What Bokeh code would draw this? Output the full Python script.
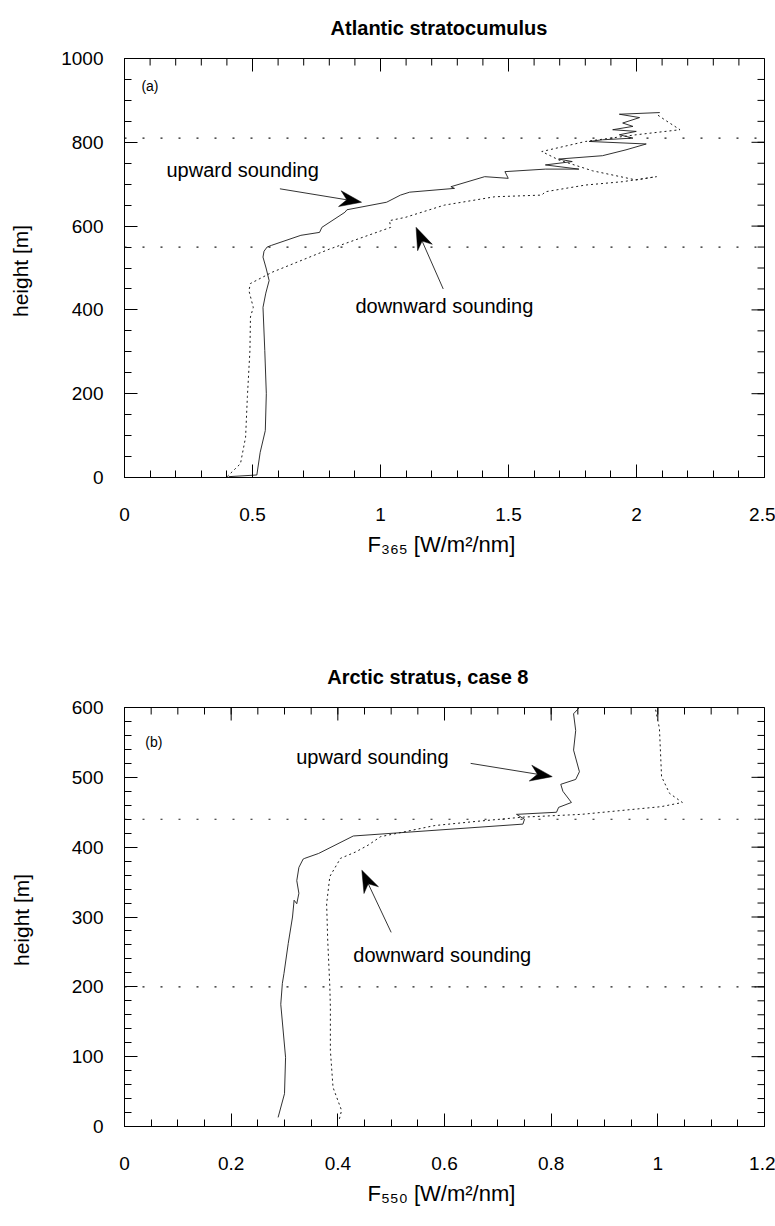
import math
from bokeh.plotting import figure
from bokeh.layouts import column
from bokeh.models import FixedTicker, Label, Span, Range1d, LinearAxis
from bokeh.embed import file_html
from bokeh.resources import INLINE

# ---------------- Panel (a): Atlantic stratocumulus ----------------
a_title = "Atlantic   stratocumulus"
a_xlabel = "F₃₆₅  [W/m²/nm]"
a_up_x = [0.407, 0.517, 0.53, 0.55, 0.554, 0.548, 0.541, 0.552, 0.565, 0.553, 0.541, 0.545,
          0.557, 0.574, 0.689, 0.762, 0.771, 0.861, 0.869, 1.024, 1.078, 1.114, 1.289, 1.275,
          1.407, 1.499, 1.486, 1.644, 1.775, 1.644, 1.749, 1.696, 1.867, 1.959, 2.038, 1.815,
          1.867, 1.986, 1.933, 1.999, 1.907, 1.986, 1.946, 2.012, 1.933, 2.091]
a_up_h = [2, 6, 60, 112, 200, 303, 406, 440, 470, 500, 526, 540,
          550, 554, 578, 585, 597, 633, 639, 657, 674, 681, 690, 694,
          718, 714, 730, 736, 736, 746, 754, 760, 768, 782, 796, 802,
          806, 810, 818, 826, 830, 838, 846, 859, 867, 871]
a_down_x = [0.401, 0.453, 0.473, 0.48, 0.49, 0.492, 0.503, 0.486, 0.492, 0.577, 0.80, 1.04,
            1.035, 1.098, 1.249, 1.446, 1.63, 1.644, 1.801, 1.946, 2.078, 1.999, 1.828, 1.696,
            1.63, 1.801, 1.999, 2.17, 2.117, 2.078]
a_down_h = [2, 33, 96, 193, 303, 383, 406, 446, 463, 490, 545, 597,
            613, 621, 650, 670, 674, 682, 698, 706, 718, 710, 732, 758,
            778, 802, 818, 830, 851, 867]
a_levels = [550, 810]
a_xticks = [0, 0.5, 1, 1.5, 2, 2.5]
a_xtick_labels = ["0", "0.5", "1", "1.5", "2", "2.5"]
a_yticks = [0, 200, 400, 600, 800, 1000]
a_ytick_labels = ["0", "200", "400", "600", "800", "1000"]

# ---------------- Panel (b): Arctic stratus, case 8 ----------------
b_title = "Arctic   stratus,   case   8"
b_xlabel = "F₅₅₀  [W/m²/nm]"
b_up_x = [0.288, 0.300, 0.302, 0.293, 0.296, 0.299, 0.307, 0.315, 0.318, 0.323, 0.327, 0.323,
          0.327, 0.335, 0.338, 0.364, 0.429, 0.747, 0.75, 0.735, 0.81, 0.814, 0.838, 0.822,
          0.818, 0.846, 0.853, 0.842, 0.846, 0.842, 0.853]
b_up_h = [13, 47, 99, 175, 205, 219, 262, 300, 324, 319, 334, 352,
          371, 383, 384, 391, 416, 433, 440, 447, 450, 457, 464, 480,
          490, 497, 508, 539, 567, 591, 600]
b_down_x = [0.403, 0.407, 0.391, 0.386, 0.386, 0.385, 0.381, 0.379, 0.385, 0.405, 0.433, 0.457,
            0.48, 0.582, 0.661, 0.747, 0.857, 1.006, 1.046, 1.022, 1.007, 1.003, 0.995]
b_down_h = [11, 23, 56, 109, 171, 200, 267, 319, 358, 384, 393, 403,
            415, 431, 437, 443, 447, 458, 464, 477, 501, 570, 600]
b_levels = [200, 440]
b_xticks = [0, 0.2, 0.4, 0.6, 0.8, 1.0, 1.2]
b_xtick_labels = ["0", "0.2", "0.4", "0.6", "0.8", "1", "1.2"]
b_yticks = [0, 100, 200, 300, 400, 500, 600]
b_ytick_labels = ["0", "100", "200", "300", "400", "500", "600"]

FONT = "Liberation Sans"
INK = "#1a1a1a"
FRAME_W, FRAME_H = 640, 419
MAJ, MIN = 13, 7


def make_panel(height, top, bottom, xmax, ymax, xticks, xlabels, xminor_step,
               yticks, ylabels, yminor_step, ylab_standoff, title, xlabel):
    p = figure(width=775, height=height, x_range=Range1d(0, xmax), y_range=Range1d(0, ymax),
               output_backend="svg", toolbar_location=None,
               min_border_left=124, min_border_right=11, min_border_top=top,
               min_border_bottom=bottom)
    p.title.visible = False
    p.grid.visible = False
    p.outline_line_color = "black"
    p.outline_line_width = 1
    nx = int(round(xmax / xminor_step))
    ny = int(round(ymax / yminor_step))
    xminor = [i * xminor_step for i in range(nx + 1)]
    yminor = [i * yminor_step for i in range(ny + 1)]

    def style_axis(ax):
        ax.axis_line_color = "black"
        ax.major_tick_line_color = "black"
        ax.minor_tick_line_color = "black"
        ax.major_tick_in = MAJ
        ax.major_tick_out = 0
        ax.minor_tick_in = MIN
        ax.minor_tick_out = 0
        ax.major_label_text_font = FONT
        ax.major_label_text_color = "black"
        ax.major_label_text_font_size = "19px"
        ax.axis_label_text_color = "black"
        ax.axis_label_text_font = FONT
        ax.axis_label_text_font_style = "normal"

    xa = p.xaxis[0]
    xa.ticker = FixedTicker(ticks=xticks, minor_ticks=xminor)
    xa.major_label_overrides = {t: s for t, s in zip(xticks, xlabels)}
    style_axis(xa)
    xa.major_label_standoff = 30
    xa.axis_label = xlabel
    xa.axis_label_text_font_size = "22px"
    xa.axis_label_standoff = 8

    ya = p.yaxis[0]
    ya.ticker = FixedTicker(ticks=yticks, minor_ticks=yminor)
    ya.major_label_overrides = {t: s for t, s in zip(yticks, ylabels)}
    style_axis(ya)
    ya.major_label_standoff = 21
    ya.axis_label = "height  [m]"
    ya.axis_label_text_font_size = "21px"
    ya.axis_label_standoff = ylab_standoff

    # panel title: label of a tick-less axis above the frame
    tax = LinearAxis(ticker=FixedTicker(ticks=[]), axis_line_color=None,
                     major_tick_out=0, major_tick_in=0, minor_tick_out=0,
                     minor_tick_in=0, major_label_standoff=0,
                     axis_label=title, axis_label_standoff=20,
                     axis_label_text_font=FONT, axis_label_text_font_size="20px",
                     axis_label_text_font_style="bold", axis_label_text_color="black")
    p.add_layout(tax, "above")

    # inward ticks on the top and right edges of the frame
    kx, ky = FRAME_W / xmax, FRAME_H / ymax
    tx = [t for t in xminor] + list(xticks)
    tl = [MIN] * len(xminor) + [MAJ] * len(xticks)
    p.segment(x0=tx, y0=[ymax] * len(tx), x1=tx, y1=[ymax - L / ky for L in tl],
              line_color="black", line_width=1)
    ty = [t for t in yminor] + list(yticks)
    yl = [MIN] * len(yminor) + [MAJ] * len(yticks)
    p.segment(x0=[xmax] * len(ty), y0=ty, x1=[xmax - L / kx for L in yl], y1=ty,
              line_color="black", line_width=1)
    return p


def add_arrow(p, tail, tip, kx, ky, L=22, W=8, notch=7):
    dx = (tip[0] - tail[0]) * kx
    dy = (tip[1] - tail[1]) * ky
    n = math.hypot(dx, dy)
    ux, uy = dx / n, dy / n
    qx, qy = -uy, ux

    def to_data(ox, oy):
        return (tip[0] + ox / kx, tip[1] + oy / ky)

    b1 = to_data(-L * ux + W * qx, -L * uy + W * qy)
    nt = to_data(-(L - notch) * ux, -(L - notch) * uy)
    b2 = to_data(-L * ux - W * qx, -L * uy - W * qy)
    p.line([tail[0], nt[0]], [tail[1], nt[1]], line_color="black", line_width=0.8)
    p.patch([tip[0], b1[0], nt[0], b2[0]], [tip[1], b1[1], nt[1], b2[1]],
            fill_color="black", line_color="black", line_width=0.5)


def add_text(p, x, y, text, size):
    p.add_layout(Label(x=x, y=y, text=text, text_font=FONT, text_font_size=size,
                       text_align="left", text_baseline="middle", text_color="black"))


# ---- panel a ----
pa = make_panel(649, 58, 172, 2.5, 1000, a_xticks, a_xtick_labels, 0.1,
                a_yticks, a_ytick_labels, 50, 26, a_title, a_xlabel)
for lev in a_levels:
    pa.add_layout(Span(location=lev, dimension="width", line_color=INK,
                       line_dash="2 16", line_width=1.2))
pa.line(a_up_x, a_up_h, line_color=INK, line_width=0.9)
pa.line(a_down_x, a_down_h, line_color=INK, line_width=1.0, line_dash="2 3")
kxa, kya = FRAME_W / 2.5, FRAME_H / 1000
add_arrow(pa, (0.607, 689), (0.926, 657), kxa, kya)
add_arrow(pa, (1.245, 450), (1.139, 597), kxa, kya)
add_text(pa, 0.164, 733, "upward sounding", "20px")
add_text(pa, 0.902, 410, "downward sounding", "20px")
add_text(pa, 0.066, 935, "(a)", "14px")

# ---- panel b ----
pb = make_panel(577, 58, 100, 1.2, 600, b_xticks, b_xtick_labels, 0.05,
                b_yticks, b_ytick_labels, 20, 36, b_title, b_xlabel)
for lev in b_levels:
    pb.add_layout(Span(location=lev, dimension="width", line_color=INK,
                       line_dash="2 16", line_width=1.2))
pb.line(b_up_x, b_up_h, line_color=INK, line_width=0.9)
pb.line(b_down_x, b_down_h, line_color=INK, line_width=1.0, line_dash="2 3")
kxb, kyb = FRAME_W / 1.2, FRAME_H / 600
add_arrow(pb, (0.649, 520), (0.802, 501), kxb, kyb)
add_arrow(pb, (0.50, 278), (0.445, 367), kxb, kyb)
add_text(pb, 0.322, 529, "upward sounding", "20px")
add_text(pb, 0.429, 245, "downward sounding", "20px")
add_text(pb, 0.039, 550, "(b)", "14px")

layout = column(pa, pb)
open("out.html", "w").write(file_html(layout, INLINE))
